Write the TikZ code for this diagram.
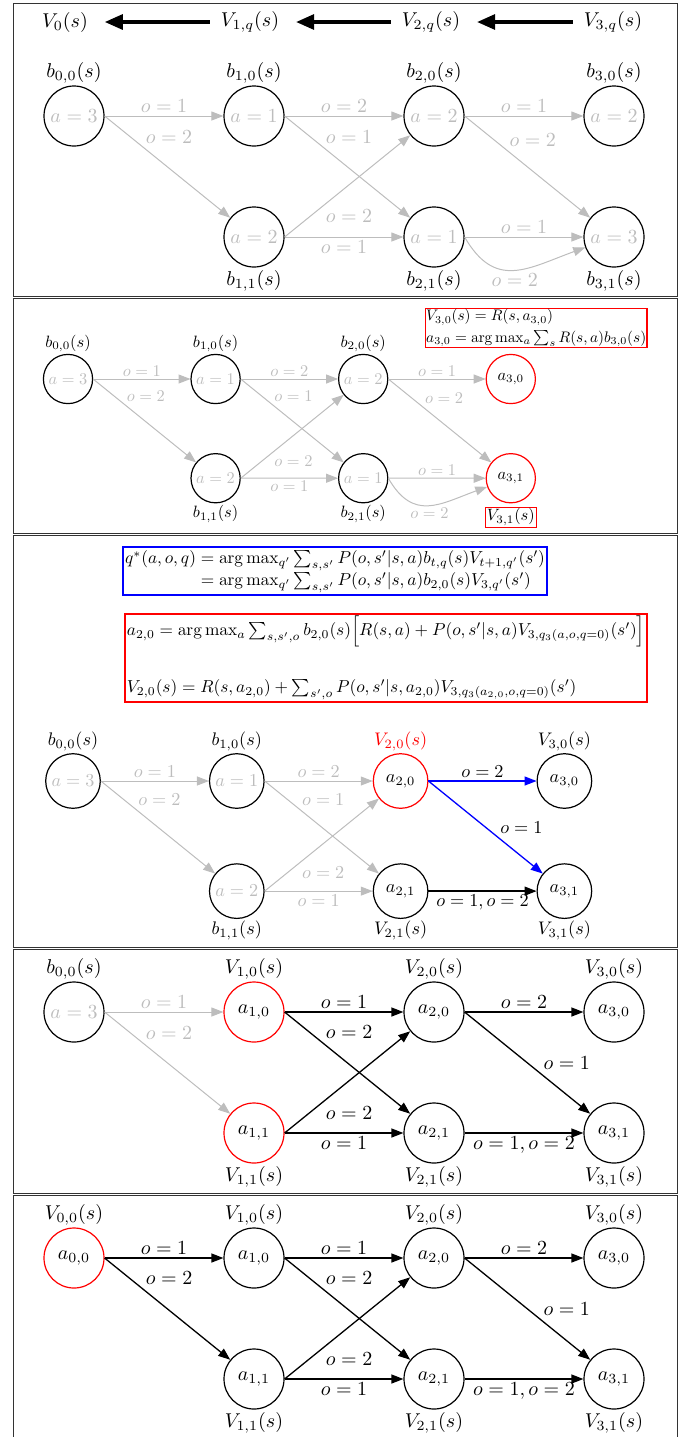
\documentclass[tikz,border=0pt]{standalone}
\usepackage{amsmath}
\usepackage{amssymb}
\usepackage{xcolor}
\usepackage{tikz}
\usetikzlibrary{arrows.meta,positioning}

\begin{document}
\begin{tikzpicture}[
    x=0.5pt, y=-0.5pt,
    st/.style={circle, draw, line width=0.6pt, minimum size=30pt, inner sep=0pt},
    grt/.style={text=black!26},
    hot/.style={draw=red},
    nlbl/.style={inner sep=1pt},
    elbl/.style={inner sep=1.5pt},
    edg/.style={-{Triangle[length=6pt,width=4.5pt]}, line width=0.65pt},
    gedg/.style={edg, black!26, line width=0.5pt},
    bedg/.style={edg, draw=blue},
    bigarr/.style={-{Triangle[length=9pt,width=7.5pt]}, line width=1.6pt, shorten >=5pt, shorten <=2pt},
    frm/.style={line width=0.5pt, black!80}
]
\useasboundingbox (0,0) rectangle (694,1437);

% frames
\draw[frm] (13,3) rectangle (677,296);
\draw[frm] (13,298) rectangle (677,533);
\draw[frm] (13,535) rectangle (677,947);
\draw[frm] (13,949) rectangle (677,1193);
\draw[frm] (13,1437) -- (13,1195) -- (677,1195) -- (677,1437);

% panel 1: backward pass over beliefs
\node (V0) at (65,22) {$V_0(s)$};
\node (V1q) at (250,22) {$V_{1,q}(s)$};
\node (V2q) at (431,22) {$V_{2,q}(s)$};
\node (V3q) at (613,22) {$V_{3,q}(s)$};
\draw[bigarr] (V1q) -- (V0);
\draw[bigarr] (V2q) -- (V1q);
\draw[bigarr] (V3q) -- (V2q);

\begin{scope}[shift={(74,116)}]
\node[st, grt] (A00) at (0,0) {$a=3$};
\node[st, grt] (A10) at (180,0) {$a=1$};
\node[st, grt] (A11) at (180,121) {$a=2$};
\node[st, grt] (A20) at (360,0) {$a=2$};
\node[st, grt] (A21) at (360,121) {$a=1$};
\node[st, grt] (A30) at (540,0) {$a=2$};
\node[st, grt] (A31) at (540,121) {$a=3$};
\node[nlbl, above=0pt of A00] (A00l) {$b_{0,0}(s)$};
\node[nlbl, above=0pt of A10] (A10l) {$b_{1,0}(s)$};
\node[nlbl, above=0pt of A20] (A20l) {$b_{2,0}(s)$};
\node[nlbl, above=0pt of A30] (A30l) {$b_{3,0}(s)$};
\node[nlbl, below=0pt of A11] (A11l) {$b_{1,1}(s)$};
\node[nlbl, below=0pt of A21] (A21l) {$b_{2,1}(s)$};
\node[nlbl, below=0pt of A31] (A31l) {$b_{3,1}(s)$};
\draw[gedg] (A00.east) -- node[elbl, above] {$o=1$} (A10);
\draw[gedg] (A00.east) -- node[elbl, pos=0.3, above right] {$o=2$} (A11);
\draw[gedg] (A10.east) -- node[elbl, above] {$o=2$} (A20);
\draw[gedg] (A10.east) -- node[elbl, pos=0.3, above right] {$o=1$} (A21);
\draw[gedg] (A11.east) -- node[elbl, pos=0.3, below right] {$o=2$} (A20);
\draw[gedg] (A11.east) -- node[elbl, below] {$o=1$} (A21);
\draw[gedg] (A20.east) -- node[elbl, above] {$o=1$} (A30);
\draw[gedg] (A20.east) -- node[elbl, pos=0.33, above right] {$o=2$} (A31);
\draw[gedg] (A21.east) -- node[elbl, above] {$o=1$} (A31);
\draw[gedg] (A21.east) to[out=-60, in=-160, looseness=1.3] node[elbl, below] {$o=2$} (A31);
\end{scope}

% panel 2: last step
\begin{scope}[shift={(68,379)}, scale=0.82, transform shape]
\node[st, grt] (B00) at (0,0) {$a=3$};
\node[st, grt] (B10) at (180,0) {$a=1$};
\node[st, grt] (B11) at (180,121) {$a=2$};
\node[st, grt] (B20) at (360,0) {$a=2$};
\node[st, grt] (B21) at (360,121) {$a=1$};
\node[st, hot] (B30) at (540,0) {$a_{3,0}$};
\node[st, hot] (B31) at (540,121) {$a_{3,1}$};
\node[nlbl, above=0pt of B00] (B00l) {$b_{0,0}(s)$};
\node[nlbl, above=0pt of B10] (B10l) {$b_{1,0}(s)$};
\node[nlbl, above=0pt of B20] (B20l) {$b_{2,0}(s)$};
\node[nlbl, below=0pt of B11] (B11l) {$b_{1,1}(s)$};
\node[nlbl, below=0pt of B21] (B21l) {$b_{2,1}(s)$};
\node[nlbl, draw=red, below=2pt of B31] (B31l) {$V_{3,1}(s)$};
\node[draw=red, line width=0.6pt, inner sep=0.5pt, align=left, scale=0.93] (B30eq) at (571,-62)
  {$V_{3,0}(s) = R(s,a_{3,0})$\\[2pt] $a_{3,0} = \arg\max_a \sum_s R(s,a) b_{3,0}(s)$};
\draw[gedg] (B00.east) -- node[elbl, above] {$o=1$} (B10);
\draw[gedg] (B00.east) -- node[elbl, pos=0.3, above right] {$o=2$} (B11);
\draw[gedg] (B10.east) -- node[elbl, above] {$o=2$} (B20);
\draw[gedg] (B10.east) -- node[elbl, pos=0.3, above right] {$o=1$} (B21);
\draw[gedg] (B11.east) -- node[elbl, pos=0.3, below right] {$o=2$} (B20);
\draw[gedg] (B11.east) -- node[elbl, below] {$o=1$} (B21);
\draw[gedg] (B20.east) -- node[elbl, above] {$o=1$} (B30);
\draw[gedg] (B20.east) -- node[elbl, pos=0.33, above right] {$o=2$} (B31);
\draw[gedg] (B21.east) -- node[elbl, above] {$o=1$} (B31);
\draw[gedg] (B21.east) to[out=-60, in=-160, looseness=1.3] node[elbl, below] {$o=2$} (B31);
\end{scope}

% panel 3: step 2
\node[draw=blue, line width=0.9pt, inner sep=1pt, scale=0.865] (qstar) at (335,571) {$\begin{array}{@{}r@{}l@{}}
  q^*(a,o,q) & {}= \arg\max_{q'} \sum_{s,s'} P(o,s'|s,a) b_{t,q}(s) V_{t+1,q'}(s')\\
             & {}= \arg\max_{q'} \sum_{s,s'} P(o,s'|s,a) b_{2,0}(s) V_{3,q'}(s')
  \end{array}$};
\node[draw=red, line width=0.9pt, inner sep=1pt, align=left, scale=0.865] (a20eq) at (386,658)
  {$a_{2,0} = \arg\max_a \sum_{s,s',o} b_{2,0}(s)\Big[R(s,a) + P(o,s'|s,a)V_{3,q_3(a,o,q=0)}(s')\Big]$\\[18pt]
   $V_{2,0}(s) = R(s,a_{2,0}) + \sum_{s',o} P(o,s'|s,a_{2,0})V_{3,q_3(a_{2,0},o,q=0)}(s')$};

\begin{scope}[shift={(73,781)}, scale=0.91, transform shape]
\node[st, grt] (C00) at (0,0) {$a=3$};
\node[st, grt] (C10) at (180,0) {$a=1$};
\node[st, grt] (C11) at (180,121) {$a=2$};
\node[st, hot] (C20) at (360,0) {$a_{2,0}$};
\node[st] (C21) at (360,121) {$a_{2,1}$};
\node[st] (C30) at (540,0) {$a_{3,0}$};
\node[st] (C31) at (540,121) {$a_{3,1}$};
\node[nlbl, above=0pt of C00] (C00l) {$b_{0,0}(s)$};
\node[nlbl, above=0pt of C10] (C10l) {$b_{1,0}(s)$};
\node[nlbl, red, above=0pt of C20] (C20l) {$V_{2,0}(s)$};
\node[nlbl, above=0pt of C30] (C30l) {$V_{3,0}(s)$};
\node[nlbl, below=0pt of C11] (C11l) {$b_{1,1}(s)$};
\node[nlbl, below=0pt of C21] (C21l) {$V_{2,1}(s)$};
\node[nlbl, below=0pt of C31] (C31l) {$V_{3,1}(s)$};
\draw[gedg] (C00.east) -- node[elbl, above] {$o=1$} (C10);
\draw[gedg] (C00.east) -- node[elbl, pos=0.3, above right] {$o=2$} (C11);
\draw[gedg] (C10.east) -- node[elbl, above] {$o=2$} (C20);
\draw[gedg] (C10.east) -- node[elbl, pos=0.3, above right] {$o=1$} (C21);
\draw[gedg] (C11.east) -- node[elbl, pos=0.3, below right] {$o=2$} (C20);
\draw[gedg] (C11.east) -- node[elbl, below] {$o=1$} (C21);
\draw[bedg] (C20.east) -- node[elbl, above] {$o=2$} (C30);
\draw[bedg] (C20.east) -- node[elbl, pos=0.6, above right] {$o=1$} (C31);
\draw[edg] (C21.east) -- node[elbl, below] {$o=1,o=2$} (C31);
\end{scope}

% panel 4: step 1
\begin{scope}[shift={(74,1012)}]
\node[st, grt] (D00) at (0,0) {$a=3$};
\node[st, hot] (D10) at (180,0) {$a_{1,0}$};
\node[st, hot] (D11) at (180,121) {$a_{1,1}$};
\node[st] (D20) at (360,0) {$a_{2,0}$};
\node[st] (D21) at (360,121) {$a_{2,1}$};
\node[st] (D30) at (540,0) {$a_{3,0}$};
\node[st] (D31) at (540,121) {$a_{3,1}$};
\node[nlbl, above=0pt of D00] (D00l) {$b_{0,0}(s)$};
\node[nlbl, above=0pt of D10] (D10l) {$V_{1,0}(s)$};
\node[nlbl, above=0pt of D20] (D20l) {$V_{2,0}(s)$};
\node[nlbl, above=0pt of D30] (D30l) {$V_{3,0}(s)$};
\node[nlbl, below=0pt of D11] (D11l) {$V_{1,1}(s)$};
\node[nlbl, below=0pt of D21] (D21l) {$V_{2,1}(s)$};
\node[nlbl, below=0pt of D31] (D31l) {$V_{3,1}(s)$};
\draw[gedg] (D00.east) -- node[elbl, above] {$o=1$} (D10);
\draw[gedg] (D00.east) -- node[elbl, pos=0.3, above right] {$o=2$} (D11);
\draw[edg] (D10.east) -- node[elbl, above] {$o=1$} (D20);
\draw[edg] (D10.east) -- node[elbl, pos=0.3, above right] {$o=2$} (D21);
\draw[edg] (D11.east) -- node[elbl, pos=0.3, below right] {$o=2$} (D20);
\draw[edg] (D11.east) -- node[elbl, below] {$o=1$} (D21);
\draw[edg] (D20.east) -- node[elbl, above] {$o=2$} (D30);
\draw[edg] (D20.east) -- node[elbl, pos=0.6, above right] {$o=1$} (D31);
\draw[edg] (D21.east) -- node[elbl, below] {$o=1,o=2$} (D31);
\end{scope}

% panel 5: step 0
\begin{scope}[shift={(74,1258)}]
\node[st, hot] (E00) at (0,0) {$a_{0,0}$};
\node[st] (E10) at (180,0) {$a_{1,0}$};
\node[st] (E11) at (180,121) {$a_{1,1}$};
\node[st] (E20) at (360,0) {$a_{2,0}$};
\node[st] (E21) at (360,121) {$a_{2,1}$};
\node[st] (E30) at (540,0) {$a_{3,0}$};
\node[st] (E31) at (540,121) {$a_{3,1}$};
\node[nlbl, above=0pt of E00] (E00l) {$V_{0,0}(s)$};
\node[nlbl, above=0pt of E10] (E10l) {$V_{1,0}(s)$};
\node[nlbl, above=0pt of E20] (E20l) {$V_{2,0}(s)$};
\node[nlbl, above=0pt of E30] (E30l) {$V_{3,0}(s)$};
\node[nlbl, below=0pt of E11] (E11l) {$V_{1,1}(s)$};
\node[nlbl, below=0pt of E21] (E21l) {$V_{2,1}(s)$};
\node[nlbl, below=0pt of E31] (E31l) {$V_{3,1}(s)$};
\draw[edg] (E00.east) -- node[elbl, above] {$o=1$} (E10);
\draw[edg] (E00.east) -- node[elbl, pos=0.3, above right] {$o=2$} (E11);
\draw[edg] (E10.east) -- node[elbl, above] {$o=1$} (E20);
\draw[edg] (E10.east) -- node[elbl, pos=0.3, above right] {$o=2$} (E21);
\draw[edg] (E11.east) -- node[elbl, pos=0.3, below right] {$o=2$} (E20);
\draw[edg] (E11.east) -- node[elbl, below] {$o=1$} (E21);
\draw[edg] (E20.east) -- node[elbl, above] {$o=2$} (E30);
\draw[edg] (E20.east) -- node[elbl, pos=0.6, above right] {$o=1$} (E31);
\draw[edg] (E21.east) -- node[elbl, below] {$o=1,o=2$} (E31);
\end{scope}

\end{tikzpicture}
\end{document}
